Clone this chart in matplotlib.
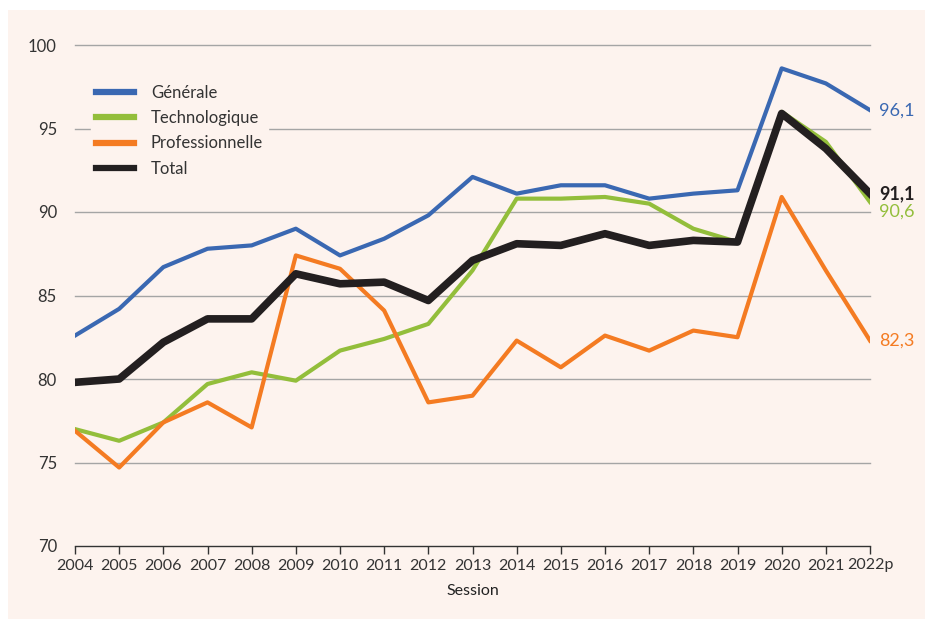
import matplotlib
matplotlib.use("Agg")
import matplotlib.pyplot as plt
from matplotlib.patches import Rectangle
from matplotlib.font_manager import fontManager

years = ["2004", "2005", "2006", "2007", "2008", "2009", "2010", "2011", "2012", "2013",
         "2014", "2015", "2016", "2017", "2018", "2019", "2020", "2021", "2022p"]
generale = [82.6, 84.2, 86.7, 87.8, 88.0, 89.0, 87.4, 88.4, 89.8, 92.1,
            91.1, 91.6, 91.6, 90.8, 91.1, 91.3, 98.6, 97.7, 96.1]
techno = [77.0, 76.3, 77.4, 79.7, 80.4, 79.9, 81.7, 82.4, 83.3, 86.5,
          90.8, 90.8, 90.9, 90.5, 89.0, 88.2, 96.0, 94.2, 90.6]
pro = [76.9, 74.7, 77.4, 78.6, 77.1, 87.4, 86.6, 84.1, 78.6, 79.0,
       82.3, 80.7, 82.6, 81.7, 82.9, 82.5, 90.9, 86.5, 82.3]
total = [79.8, 80.0, 82.2, 83.6, 83.6, 86.3, 85.7, 85.8, 84.7, 87.1,
         88.1, 88.0, 88.7, 88.0, 88.3, 88.2, 95.9, 93.8, 91.1]
yticks = [70, 75, 80, 85, 90, 95, 100]

names = {f.name for f in fontManager.ttflist}
main_font = "Lato" if "Lato" in names else "DejaVu Sans"
plt.rcParams["font.family"] = [main_font, "DejaVu Sans"]

bg = "#FDF3EE"
c_gen = "#3A68B2"
c_tec = "#93BE3B"
c_pro = "#F47B22"
c_tot = "#231F20"
c_txt = "#333333"

fig = plt.figure(figsize=(9.25, 6.19), dpi=100, facecolor="white")
fig.patches.append(Rectangle((8/925, 0), 1, 1 - 10/619, transform=fig.transFigure,
                             facecolor=bg, edgecolor="none", zorder=-10))
ax = fig.add_axes([75/925, 1 - 546/619, (870-75)/925, (546-45)/619])
ax.set_facecolor(bg)
ax.set_zorder(1)

x = list(range(len(years)))
for yv in yticks[1:]:
    ax.axhline(yv, color="#A5A5A5", lw=1.0, zorder=1, clip_on=False)

ax.plot(x, generale, color=c_gen, lw=3.0, label="Générale", zorder=3)
ax.plot(x, techno, color=c_tec, lw=3.0, label="Technologique", zorder=3)
ax.plot(x, pro, color=c_pro, lw=3.0, label="Professionnelle", zorder=3)
ax.plot(x, total, color=c_tot, lw=5.5, label="Total", zorder=4)

ax.set_xlim(0, len(years) - 1)
ax.set_ylim(70, 100)
ax.set_yticks(yticks)
ax.set_yticklabels([str(v) for v in yticks], fontsize=12, color=c_txt)
ax.set_xticks(x)
ax.set_xticklabels(years, fontsize=11.5, color=c_txt)
ax.tick_params(axis="y", length=0, pad=13)
ax.tick_params(axis="x", length=6, width=1, color=c_txt, direction="out", pad=3)
for s in ["left", "right", "top"]:
    ax.spines[s].set_visible(False)
ax.spines["bottom"].set_color(c_txt)
ax.spines["bottom"].set_linewidth(1)
ax.set_xlabel("Session", fontsize=11.5, color="#222222", labelpad=8)

n = len(years) - 1
ax.text(n + 0.2, generale[-1], "96,1", color=c_gen, fontsize=13, va="center", ha="left")
ax.text(n + 0.2, total[-1], "91,1", color=c_tot, fontsize=13, va="center", ha="left", fontweight="bold")
ax.text(n + 0.2, techno[-1] - 0.55, "90,6", color=c_tec, fontsize=13, va="center", ha="left")
ax.text(n + 0.2, pro[-1], "82,3", color=c_pro, fontsize=13, va="center", ha="left")

leg = ax.legend(loc="upper left", bbox_to_anchor=(0.02, 0.93), frameon=True, fontsize=12,
                handlelength=2.3, handletextpad=1.0, labelspacing=0.55, borderpad=0.3,
                borderaxespad=0)
leg.get_frame().set_facecolor(bg)
leg.get_frame().set_edgecolor(bg)
leg.get_frame().set_alpha(1)
leg.set_zorder(5)
for h in leg.get_lines():
    h.set_linewidth(4.5)
for t in leg.get_texts():
    t.set_color(c_txt)

fig.savefig("out.png", dpi=100, facecolor="white")
